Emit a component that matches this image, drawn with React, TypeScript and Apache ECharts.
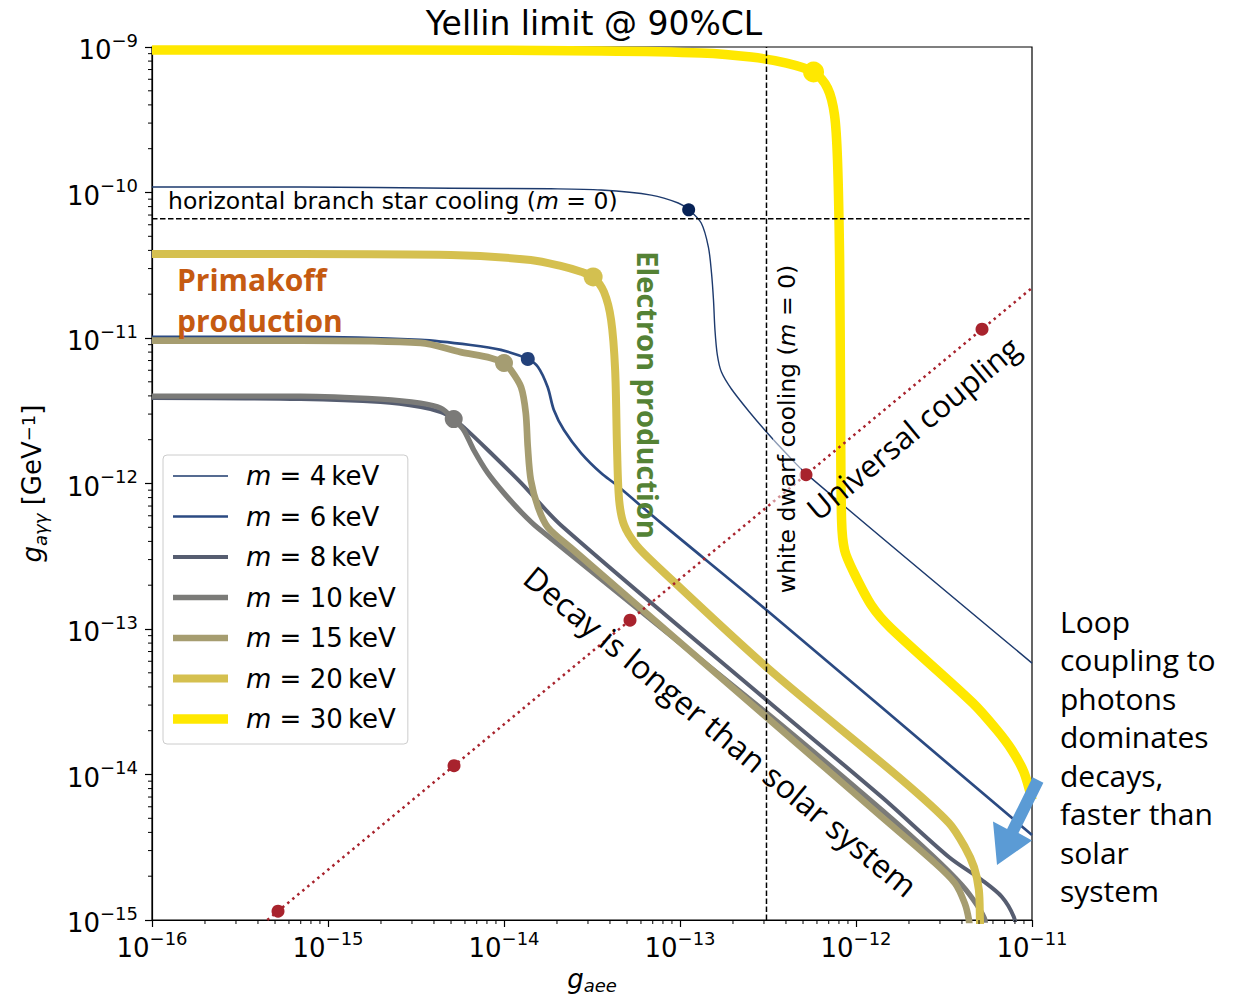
import React, { useEffect, useRef } from "react";
import * as echarts from "echarts";

// Axion masses shown, with their line colours and widths
const MASSES = ["4\u2009keV", "6\u2009keV", "8\u2009keV", "10\u2009keV", "15\u2009keV", "20\u2009keV", "30\u2009keV"];
const COLORS = ["#1d3a6d", "#2b4a82", "#565d70", "#7b7b78", "#a69d70", "#d5c04f", "#ffe800"];
const WIDTHS = [1.4, 2.7, 4, 5.3, 6.7, 8, 9.5];
const MARKER_COLORS = ["#072256", "#23417a", "#565d70", "#7b7a78", "#a59d72", "#d3c050", "#ffe800"];
const MARKER_SIZES = [13, 14, 15, 18, 18, 19, 21];

// Exclusion curves: [g_aee, g_aγγ]
const M4: [number, number][] = [
  [1e-16, 1.09e-10], [7.0e-16, 1.09e-10], [5.0e-15, 1.07e-10], [1.85e-14, 1.06e-10],
  [3.56e-14, 1.04e-10], [6.86e-14, 9.6e-11], [9.77e-14, 8.47e-11], [1.127e-13, 7.59e-11],
  [1.32e-13, 6.17e-11], [1.45e-13, 4.22e-11], [1.51e-13, 2.8e-11], [1.55e-13, 1.82e-11],
  [1.58e-13, 1.135e-11], [1.63e-13, 7.64e-12], [1.72e-13, 5.83e-12], [1.96e-13, 4.46e-12],
  [2.48e-13, 3.1e-12], [3.1e-13, 2.26e-12], [4.03e-13, 1.6e-12], [5.24e-13, 1.16e-12],
  [1e-11, 5.83e-14],
];
const M6: [number, number][] = [
  [1e-16, 1.02e-11], [7.0e-16, 1.02e-11], [3.36e-15, 9.7e-12], [6.47e-15, 8.95e-12],
  [9.6e-15, 8.28e-12], [1.365e-14, 7.18e-12], [1.56e-14, 6.32e-12], [1.77e-14, 4.6e-12],
  [1.92e-14, 3.2e-12], [2.19e-14, 2.33e-12], [2.74e-14, 1.62e-12], [3.56e-14, 1.18e-12],
  [4.34e-14, 9.8e-13], [7.8e-14, 5.36e-13], [3.1e-13, 1.35e-13], [1e-11, 3.84e-15],
];
const M8: [number, number][] = [
  [1e-16, 3.87e-12], [7.0e-16, 3.81e-12], [1.99e-15, 3.63e-12], [3.36e-15, 3.36e-12],
  [4.37e-15, 3.1e-12], [5.18e-15, 2.77e-12], [5.9e-15, 2.44e-12], [8.09e-15, 1.7e-12],
  [1.25e-14, 1.01e-12], [2.1e-14, 5.19e-13], [3.1e-13, 3.25e-14], [1.4e-12, 7.0e-15],
  [3.37e-12, 2.71e-15], [5.19e-12, 1.88e-15], [6.75e-12, 1.44e-15], [7.89e-12, 1.05e-15],
  [8.1e-12, 8.5e-16],
];
const M10: [number, number][] = [
  [1e-16, 3.99e-12], [7.0e-16, 3.99e-12], [1.99e-15, 3.8e-12], [3.36e-15, 3.57e-12],
  [4.37e-15, 3.3e-12], [5.18e-15, 2.77e-12], [5.9e-15, 2.33e-12], [6.73e-15, 1.7e-12],
  [8.09e-15, 1.18e-12], [9.98e-15, 8.6e-13], [1.25e-14, 6.37e-13], [1.56e-14, 4.94e-13],
  [3.1e-13, 2.65e-14], [1.4e-12, 5.7e-15], [2.69e-12, 2.8e-15], [3.99e-12, 1.74e-15],
  [4.86e-12, 1.27e-15], [5.4e-12, 1.0e-15], [5.45e-12, 8.5e-16],
];
const M15: [number, number][] = [
  [1e-16, 9.6e-12], [7.0e-16, 9.6e-12], [3.36e-15, 9.25e-12], [5.68e-15, 8.0e-12],
  [8.4e-15, 7.3e-12], [1.0e-14, 6.73e-12], [1.094e-14, 6.03e-12], [1.25e-14, 4.6e-12],
  [1.33e-14, 3.05e-12], [1.365e-14, 1.78e-12], [1.42e-14, 1.06e-12], [1.56e-14, 6.89e-13],
  [1.77e-14, 5.02e-13], [2.4e-14, 3.61e-13], [3.1e-13, 2.48e-14], [1.4e-12, 5.1e-15],
  [2.69e-12, 2.58e-15], [3.65e-12, 1.79e-15], [4.15e-12, 1.3e-15], [4.38e-12, 1.0e-15],
  [4.42e-12, 8.5e-16],
];
const M20: [number, number][] = [
  [1e-16, 3.78e-11], [7.0e-16, 3.78e-11], [5.0e-15, 3.72e-11], [1.42e-14, 3.44e-11],
  [2.1e-14, 3.13e-11], [2.74e-14, 2.85e-11], [3.21e-14, 2.63e-11], [3.7e-14, 2.07e-11],
  [4.06e-14, 1.33e-11], [4.28e-14, 6.03e-12], [4.39e-14, 1.7e-12], [4.51e-14, 7.7e-13],
  [4.81e-14, 5.19e-13], [5.64e-14, 3.78e-13], [7.31e-14, 2.75e-13], [3.1e-13, 5.48e-14],
  [1.82e-12, 9.2e-15], [3.37e-12, 4.65e-15], [4.15e-12, 3.18e-15], [4.68e-12, 2.31e-15],
  [4.99e-12, 1.61e-15], [5.06e-12, 1.0e-15], [5.07e-12, 8.5e-16],
];
const M30: [number, number][] = [
  [1e-16, 9.53e-10], [2.6e-15, 9.53e-10], [3.56e-14, 9.4e-10], [1.32e-13, 9.1e-10],
  [2.54e-13, 8.53e-10], [4.03e-13, 7.76e-10], [5.74e-13, 6.73e-10], [6.89e-13, 5.22e-10],
  [7.55e-13, 3.41e-10], [7.85e-13, 1.67e-10], [8.07e-13, 3.44e-11], [8.17e-13, 3.75e-12],
  [8.28e-13, 5.61e-13], [8.61e-13, 3.49e-13], [9.68e-13, 2.47e-13], [1.23e-12, 1.44e-13],
  [1.57e-12, 1.02e-13], [4.61e-12, 3.1e-14], [6.32e-12, 2.02e-14], [7.69e-12, 1.47e-14],
  [8.99e-12, 1.04e-14], [1e-11, 6.68e-15],
];
const CURVES = [M4, M6, M8, M10, M15, M20, M30];

// Knee of each curve
const MARKERS: [number, number][] = [
  [1.12e-13, 7.6e-11], [1.365e-14, 7.18e-12], [5.18e-15, 2.77e-12], [5.18e-15, 2.77e-12],
  [1.0e-14, 6.73e-12], [3.21e-14, 2.63e-11], [5.74e-13, 6.73e-10],
];

// Universal coupling line and its marked points
const UNIVERSAL_LINE: [number, number][] = [[4.52e-16, 1.0e-15], [1e-11, 2.21e-11]];
const UNIVERSAL_DOTS: [number, number][] = [
  [5.2e-16, 1.15e-15], [5.2e-15, 1.15e-14], [5.2e-14, 1.15e-13], [5.2e-13, 1.15e-12], [5.2e-12, 1.15e-11],
];

// Astrophysical bounds
const HB_LIMIT = 6.6e-11; // g_aγγ from horizontal-branch stars
const WD_LIMIT = 3.1e-13; // g_aee from white dwarfs

const X_RANGE: [number, number] = [1e-16, 1e-11];
const Y_RANGE: [number, number] = [1e-15, 1e-9];
const MINOR_STEPS = [2, 3, 4, 5, 6, 7, 8, 9];

const FONT = "DejaVu Sans";
const NOTE_FONT = '"Open Sans"';

function minorTicks(lo: number, hi: number): number[] {
  const out: number[] = [];
  for (let d = Math.round(Math.log10(lo)); d < Math.round(Math.log10(hi)); d++) {
    for (const m of MINOR_STEPS) out.push(m * Math.pow(10, d));
  }
  return out;
}

const tickRich = {
  b: { fontFamily: FONT, fontSize: 26, color: "#000", lineHeight: 32, verticalAlign: "bottom" },
  s: { fontFamily: FONT, fontSize: 18, color: "#000", lineHeight: 17, verticalAlign: "top" },
};
const expLabel = (v: number) => `{b|10}{s|\u2212${Math.abs(Math.round(Math.log10(v)))}}`;

const mathRich = {
  n: { fontFamily: FONT, fontSize: 23.5, color: "#000" },
  i: { fontFamily: FONT, fontSize: 23.5, fontStyle: "italic", color: "#000" },
};

export default function App() {
  const ref = useRef<HTMLDivElement>(null);

  useEffect(() => {
    if (!ref.current) return;
    const chart = echarts.init(ref.current, null, { renderer: "svg" });

    const curveSeries = CURVES.map((pts, k) => ({
      name: MASSES[k],
      type: "line",
      data: pts,
      symbol: "none",
      smooth: 0.3,
      clip: true,
      lineStyle: { color: COLORS[k], width: WIDTHS[k], join: "round" },
      itemStyle: { color: COLORS[k] },
      z: 2 + k,
      silent: true,
    }));

    const minorData = [
      ...minorTicks(X_RANGE[0], X_RANGE[1]).map((v) => [v, Y_RANGE[0], 0]),
      ...minorTicks(Y_RANGE[0], Y_RANGE[1]).map((v) => [X_RANGE[0], v, 1]),
    ];

    const option: any = {
      animation: false,
      backgroundColor: "#fff",
      title: {
        text: "Yellin limit @ 90%CL",
        left: 594,
        top: 7,
        padding: 0,
        textAlign: "center",
        textStyle: { fontFamily: FONT, fontSize: 33, fontWeight: "normal", color: "#000" },
      },
      grid: {
        left: 152,
        top: 47,
        width: 880,
        height: 873,
        outerBoundsMode: "none",
        containLabel: false,
        show: true,
        borderColor: "#000",
        borderWidth: 1.2,
      },
      xAxis: {
        type: "log",
        logBase: 10,
        min: X_RANGE[0],
        max: X_RANGE[1],
        splitLine: { show: false },
        axisLine: { lineStyle: { color: "#000", width: 1.2 } },
        axisTick: { length: 7, lineStyle: { color: "#000", width: 1.2 } },
        axisLabel: { margin: 9, formatter: expLabel, rich: tickRich },
        name: "{g|g}{sub|aee}",
        nameLocation: "middle",
        nameGap: 46,
        nameTextStyle: {
          rich: {
            g: { fontFamily: FONT, fontSize: 26, fontStyle: "italic", color: "#000", lineHeight: 28, verticalAlign: "top" },
            sub: { fontFamily: FONT, fontSize: 18, fontStyle: "italic", color: "#000", lineHeight: 16, verticalAlign: "bottom" },
          },
        },
      },
      yAxis: {
        type: "log",
        logBase: 10,
        min: Y_RANGE[0],
        max: Y_RANGE[1],
        splitNumber: 6,
        splitLine: { show: false },
        axisLine: { lineStyle: { color: "#000", width: 1.2 } },
        axisTick: { length: 7, lineStyle: { color: "#000", width: 1.2 } },
        axisLabel: { margin: 14, formatter: expLabel, rich: tickRich },
        name: "{g|g}{sub|a\u03b3\u03b3}{n| [GeV}{sup|\u22121}{n|]}",
        nameLocation: "middle",
        nameRotate: 90,
        nameGap: 103,
        nameTextStyle: {
          rich: {
            g: { fontFamily: FONT, fontSize: 26, fontStyle: "italic", color: "#000", lineHeight: 30, verticalAlign: "top" },
            sub: { fontFamily: FONT, fontSize: 18, fontStyle: "italic", color: "#000", lineHeight: 16, verticalAlign: "bottom" },
            n: { fontFamily: FONT, fontSize: 26, color: "#000", lineHeight: 30, verticalAlign: "top" },
            sup: { fontFamily: FONT, fontSize: 18, color: "#000", lineHeight: 16, verticalAlign: "top" },
          },
        },
      },
      legend: {
        data: MASSES.map((name, k) => ({ name, icon: `path://M0,0H55V${WIDTHS[k]}H0Z` })),
        orient: "vertical",
        left: 163,
        top: 455,
        padding: [8, 12, 12, 10],
        itemWidth: 55,
        itemHeight: 26,
        itemGap: 14.5,
        symbolKeepAspect: true,
        backgroundColor: "rgba(255,255,255,0.8)",
        borderColor: "#cccccc",
        borderWidth: 1,
        borderRadius: 4,
        selectedMode: false,
        formatter: (name: string) => `{gap|}{i|m}{n| = ${name}}`,
        textStyle: {
          rich: {
            gap: { width: 13 },
            i: { fontFamily: FONT, fontSize: 26, fontStyle: "italic", color: "#000" },
            n: { fontFamily: FONT, fontSize: 26, color: "#000" },
          },
        },
      },
      series: [
        ...curveSeries,
        {
          name: "hb",
          type: "line",
          data: [[X_RANGE[0], HB_LIMIT], [X_RANGE[1], HB_LIMIT]],
          symbol: "none",
          lineStyle: { color: "#000", width: 1.5, type: [5.5, 2.5] },
          z: 20,
          silent: true,
        },
        {
          name: "wd",
          type: "line",
          data: [[WD_LIMIT, Y_RANGE[0]], [WD_LIMIT, Y_RANGE[1]]],
          symbol: "none",
          lineStyle: { color: "#000", width: 1.5, type: [5.5, 2.5] },
          z: 20,
          silent: true,
        },
        {
          name: "universal",
          type: "line",
          data: UNIVERSAL_LINE,
          symbol: "none",
          clip: true,
          lineStyle: { color: "#a8232d", width: 2.5, type: [2.5, 4] },
          z: 21,
          silent: true,
        },
        {
          name: "universal points",
          type: "scatter",
          data: UNIVERSAL_DOTS,
          symbolSize: 13,
          itemStyle: { color: "#a8232d", opacity: 1 },
          z: 22,
          silent: true,
        },
        {
          name: "knees",
          type: "scatter",
          data: MARKERS.map((p, k) => ({
            value: p,
            symbolSize: MARKER_SIZES[k],
            itemStyle: { color: MARKER_COLORS[k], opacity: 1 },
          })),
          z: 23,
          silent: true,
        },
        {
          name: "minor ticks",
          type: "custom",
          data: minorData,
          encode: { x: 0, y: 1 },
          silent: true,
          z: 30,
          renderItem: (_params: any, api: any) => {
            const p = api.coord([api.value(0), api.value(1)]);
            const horizontal = api.value(2) === 1;
            return {
              type: "line",
              shape: horizontal
                ? { x1: p[0] - 4, y1: p[1], x2: p[0], y2: p[1] }
                : { x1: p[0], y1: p[1], x2: p[0], y2: p[1] + 4 },
              style: { stroke: "#000", lineWidth: 1 },
            };
          },
        },
      ],
      graphic: [
        {
          type: "text",
          x: 168,
          y: 201,
          z: 100,
          style: {
            text: "{n|horizontal branch star cooling (}{i|m}{n| = 0)}",
            rich: mathRich,
            verticalAlign: "middle",
          },
        },
        {
          type: "text",
          x: 787,
          y: 429,
          rotation: Math.PI / 2,
          z: 100,
          style: {
            text: "{n|white dwarf cooling (}{i|m}{n| = 0)}",
            rich: mathRich,
            align: "center",
            verticalAlign: "middle",
            backgroundColor: "rgba(255,255,255,0.5)",
            padding: [2, 2],
          },
        },
        {
          type: "text",
          x: 177,
          y: 279,
          z: 100,
          style: {
            text: "Primakoff",
            fill: "#c55a11",
            font: `bold 30px ${NOTE_FONT}`,
            verticalAlign: "middle",
          },
        },
        {
          type: "text",
          x: 177,
          y: 320,
          z: 100,
          style: {
            text: "production",
            fill: "#c55a11",
            font: `bold 30px ${NOTE_FONT}`,
            verticalAlign: "middle",
          },
        },
        {
          type: "text",
          x: 648,
          y: 395,
          rotation: -Math.PI / 2,
          z: 100,
          style: {
            text: "Electron production",
            fill: "#548235",
            font: `bold 29px ${NOTE_FONT}`,
            align: "center",
            verticalAlign: "middle",
          },
        },
        {
          type: "text",
          x: 913,
          y: 428,
          rotation: 0.695,
          z: 100,
          style: {
            text: "Universal coupling",
            fill: "#000",
            font: `31px ${NOTE_FONT}`,
            align: "center",
            verticalAlign: "middle",
          },
        },
        {
          type: "text",
          x: 721,
          y: 731,
          rotation: -0.69,
          z: 100,
          style: {
            text: "Decay is longer than solar system",
            fill: "#000",
            font: `32px ${NOTE_FONT}`,
            align: "center",
            verticalAlign: "middle",
          },
        },
        {
          type: "text",
          x: 1060,
          y: 602,
          z: 100,
          style: {
            text: "Loop\ncoupling to\nphotons\ndominates\ndecays,\nfaster than\nsolar\nsystem",
            fill: "#000",
            font: `30px ${NOTE_FONT}`,
            lineHeight: 38.5,
            verticalAlign: "top",
          },
        },
        {
          type: "polygon",
          z: 100,
          shape: {
            points: [
              [1032.6, 777.3], [1043.4, 782.7], [1018.5, 833], [1032, 840.5],
              [997, 865], [993, 821.5], [1007.1, 828.9],
            ],
          },
          style: { fill: "#5b9bd5" },
        },
      ],
    };

    chart.setOption(option);
    return () => chart.dispose();
  }, []);

  return (
    <div
      ref={ref}
      style={{ position: "absolute", left: 0, top: 0, width: 1250, height: 997, background: "#fff" }}
    />
  );
}
